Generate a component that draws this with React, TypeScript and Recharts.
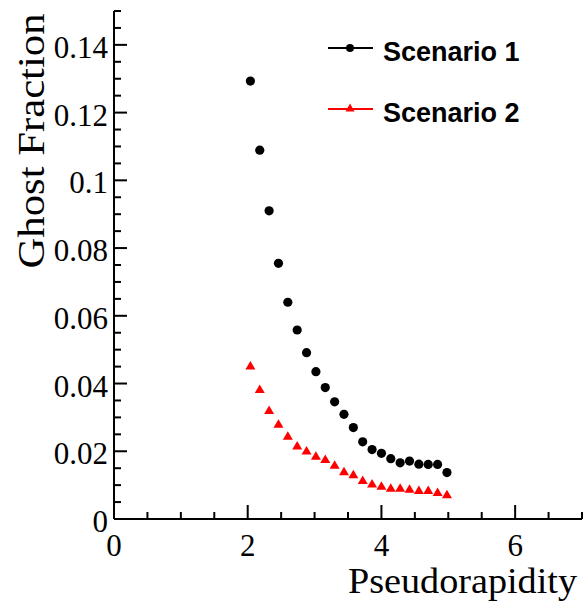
import { ScatterChart, Scatter, XAxis, YAxis, Label } from 'recharts';

// pseudorapidity bin centres
const eta = [2.04, 2.18, 2.32, 2.46, 2.6, 2.74, 2.88, 3.02, 3.16, 3.3, 3.44, 3.58, 3.72, 3.86, 4.0, 4.14, 4.28, 4.42, 4.56, 4.7, 4.84, 4.98];

const scenario1 = [0.1293, 0.1089, 0.091, 0.0755, 0.064, 0.0558, 0.0491, 0.0435, 0.0388, 0.0346, 0.0309, 0.027, 0.0228, 0.0205, 0.0194, 0.0178, 0.0166, 0.0171, 0.0162, 0.0161, 0.0161, 0.0137];
const scenario2 = [0.045, 0.0381, 0.0319, 0.0278, 0.0243, 0.0214, 0.0199, 0.0184, 0.0174, 0.0157, 0.0138, 0.0129, 0.0112, 0.0102, 0.0095, 0.0089, 0.0089, 0.0086, 0.0083, 0.0083, 0.0077, 0.007];

const xMajor = [0, 2, 4, 6];
const xLabels = ['0', '2', '4', '6'];
const yMajor = [0, 0.02, 0.04, 0.06, 0.08, 0.1, 0.12, 0.14];
const yLabels = ['0', '0.02', '0.04', '0.06', '0.08', '0.1', '0.12', '0.14'];

const xTicks = Array.from({ length: 15 }, (_, i) => i * 0.5);
const yTicks = Array.from({ length: 31 }, (_, i) => Math.round(i * 5) / 1000);

const data1 = eta.map((x, i) => ({ x, y: scenario1[i] }));
const data2 = eta.map((x, i) => ({ x, y: scenario2[i] }));

const serif = '"Liberation Serif", "Times New Roman", serif';
const sans = '"Liberation Sans", Arial, sans-serif';

const majorIdx = (list: number[], v: number) => list.findIndex((m) => Math.abs(m - v) < 1e-6);

const BottomTick = (props: any) => {
  const { x, y, payload } = props;
  const k = majorIdx(xMajor, payload.value);
  const len = k >= 0 ? 14 : 7;
  return (
    <g>
      <line x1={x} y1={y} x2={x} y2={y - len} stroke="#000" strokeWidth={2} />
      {k >= 0 && (
        <text x={x} y={y + 37} textAnchor="middle" fontFamily={serif} fontSize={31} fill="#000">
          {xLabels[k]}
        </text>
      )}
    </g>
  );
};

const TopTick = (props: any) => {
  const { x, y, payload } = props;
  const len = majorIdx(xMajor, payload.value) >= 0 ? 14 : 7;
  return <line x1={x} y1={y} x2={x} y2={y + len} stroke="#000" strokeWidth={2} />;
};

const LeftTick = (props: any) => {
  const { x, y, payload } = props;
  const k = majorIdx(yMajor, payload.value);
  const len = k >= 0 ? 13 : 7;
  return (
    <g>
      <line x1={x} y1={y} x2={x + len} y2={y} stroke="#000" strokeWidth={2} />
      {k >= 0 && (
        <text x={x - 6} y={y + 13} textAnchor="end" fontFamily={serif} fontSize={31} fill="#000">
          {yLabels[k]}
        </text>
      )}
    </g>
  );
};

const RightTick = (props: any) => {
  const { x, y, payload } = props;
  const len = majorIdx(yMajor, payload.value) >= 0 ? 13 : 7;
  return <line x1={x} y1={y} x2={x - len} y2={y} stroke="#000" strokeWidth={2} />;
};

const Dot = (props: any) => <circle cx={props.cx} cy={props.cy} r={4.6} fill="#000" />;

const Tri = (props: any) => {
  const { cx, cy } = props;
  return <polygon points={`${cx},${cy - 5.5} ${cx - 5},${cy + 3} ${cx + 5},${cy + 3}`} fill="#ff0000" />;
};

const XTitle = () => (
  <text x={577} y={593} textAnchor="end" fontFamily={serif} fontSize={35} textLength={229} lengthAdjust="spacingAndGlyphs" fill="#000">
    Pseudorapidity
  </text>
);

const YTitle = () => (
  <text
    x={0}
    y={0}
    transform="translate(44,141) rotate(-90)"
    textAnchor="middle"
    fontFamily={serif}
    fontSize={38}
    textLength={255}
    lengthAdjust="spacingAndGlyphs"
    fill="#000"
  >
    Ghost Fraction
  </text>
);

export default function App() {
  return (
    <div style={{ position: 'absolute', left: 0, top: 0, width: 584, height: 608, background: '#fff' }}>
      <ScatterChart width={584} height={608} margin={{ top: 11, right: 2, bottom: 0, left: 0 }}>
        <XAxis
          type="number"
          dataKey="x"
          domain={[0, 7]}
          ticks={xTicks}
          interval={0}
          height={89}
          tickSize={0}
          tickMargin={0}
          tick={<BottomTick />}
          axisLine={{ stroke: '#000', strokeWidth: 2 }}
          allowDataOverflow
        >
          <Label content={<XTitle />} />
        </XAxis>
        <XAxis
          xAxisId="top"
          orientation="top"
          type="number"
          domain={[0, 7]}
          ticks={xTicks}
          interval={0}
          height={0}
          tickSize={0}
          tickMargin={0}
          tick={<TopTick />}
          axisLine={{ stroke: '#000', strokeWidth: 2 }}
          allowDataOverflow
        />
        <YAxis
          type="number"
          dataKey="y"
          domain={[0, 0.15]}
          ticks={yTicks}
          interval={0}
          width={114}
          tickSize={0}
          tickMargin={0}
          tick={<LeftTick />}
          axisLine={{ stroke: '#000', strokeWidth: 2 }}
          allowDataOverflow
        >
          <Label content={<YTitle />} />
        </YAxis>
        <YAxis
          yAxisId="right"
          orientation="right"
          type="number"
          domain={[0, 0.15]}
          ticks={yTicks}
          interval={0}
          width={0}
          tickSize={0}
          tickMargin={0}
          tick={<RightTick />}
          axisLine={{ stroke: '#000', strokeWidth: 2 }}
          allowDataOverflow
        />
        <Scatter name="Scenario 1" data={data1} shape={<Dot />} isAnimationActive={false} />
        <Scatter name="Scenario 2" data={data2} shape={<Tri />} isAnimationActive={false} />
      </ScatterChart>
      <svg width={584} height={608} style={{ position: 'absolute', left: 0, top: 0, pointerEvents: 'none' }}>
        <line x1={328} y1={48} x2={373} y2={48} stroke="#000" strokeWidth={2} />
        <circle cx={350} cy={48} r={4} fill="#000" />
        <text x={383} y={61} fontFamily={sans} fontWeight="bold" fontSize={27} fill="#000">
          Scenario 1
        </text>
        <line x1={328} y1={109} x2={373} y2={109} stroke="#ff0000" strokeWidth={2} />
        <polygon points="350,103.5 345.5,111.5 354.5,111.5" fill="#ff0000" />
        <text x={383} y={122} fontFamily={sans} fontWeight="bold" fontSize={27} fill="#000">
          Scenario 2
        </text>
      </svg>
    </div>
  );
}
